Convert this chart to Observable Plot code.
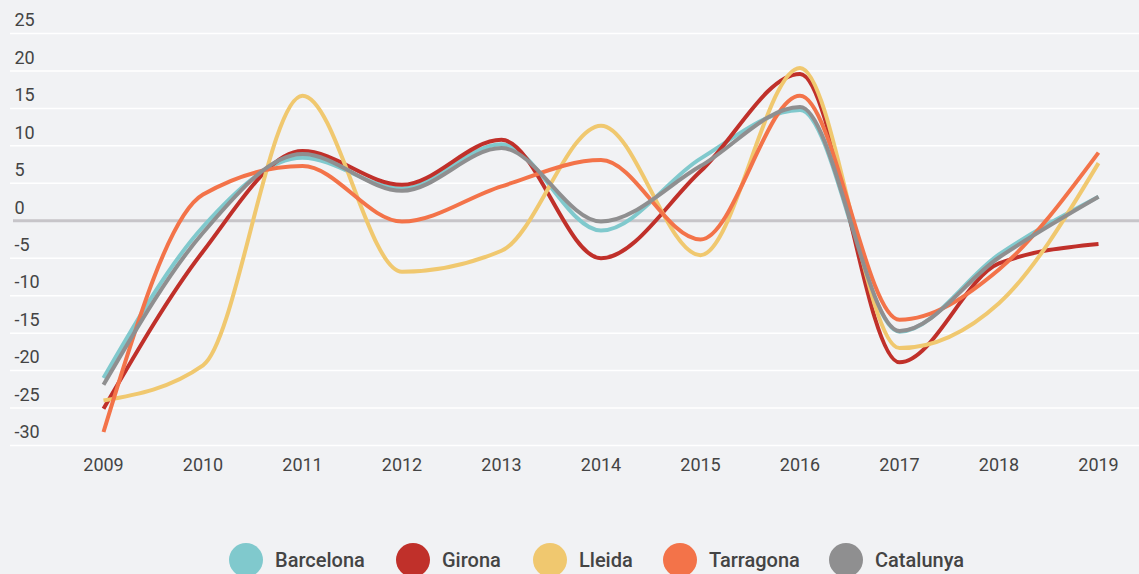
<!DOCTYPE html>
<html><head><meta charset="utf-8">
<script src="https://cdn.jsdelivr.net/npm/d3@7"></script>
<script src="https://cdn.jsdelivr.net/npm/@observablehq/plot@0.6"></script>
<style>
body{margin:0;background:#f1f2f4;font-family:Roboto,sans-serif;}
#chart{position:relative;width:1139px;height:574px;overflow:hidden;background:#f1f2f4}
#legend{position:relative;height:74px}
.item{position:absolute;top:43px;display:flex;align-items:center;height:34px}
.dot{width:34px;height:34px;border-radius:50%;margin-right:12px}
.lab{font-size:20px;font-weight:500;color:#444;line-height:34px}
</style>
</head><body>
<div id="chart"></div>
<script>
const years = [2009, 2010, 2011, 2012, 2013, 2014, 2015, 2016, 2017, 2018, 2019];
const seriesNames = ["Barcelona", "Girona", "Lleida", "Tarragona", "Catalunya"];
const seriesColors = ["#80c9cd", "#c0302a", "#f0c86f", "#f37349", "#8f8f90"];
const barcelona = [-21, -0.8, 8.4, 4.3, 10.2, -1.3, 8.3, 14.8, -14.8, -4.5, 3.2];
const girona = [-25.1, -4.1, 9.3, 4.8, 10.8, -5, 6.6, 19.6, -18.9, -5.7, -3.1];
const lleida = [-24, -19.3, 16.7, -6.8, -4, 12.7, -4.6, 20.4, -17, -11, 7.7];
const tarragona = [-28.2, 3.5, 7.3, -0.1, 4.6, 8.1, -2.5, 16.7, -13.2, -6.5, 9.1];
const catalunya = [-21.9, -1.6, 8.9, 4.0, 9.7, -0.1, 7.3, 15.2, -14.7, -4.9, 3.2];
const yTicks = [25, 20, 15, 10, 5, 0, -5, -10, -15, -20, -25, -30];

const seriesValues = [barcelona, girona, lleida, tarragona, catalunya];
const rows = [];
seriesNames.forEach((name, i) => {
  years.forEach((yr, j) => rows.push({series: name, year: yr, value: seriesValues[i][j]}));
});

const chart = Plot.plot({
  width: 1139,
  height: 500,
  marginLeft: 10,
  marginRight: 0,
  marginTop: 33,
  marginBottom: 55,
  style: {background: "transparent", fontFamily: "Roboto, sans-serif", fontSize: "18px", color: "#444"},
  x: {domain: [2009, 2019], insetLeft: 93, insetRight: 41},
  y: {domain: [-30, 25], axis: null},
  color: {domain: seriesNames, range: seriesColors},
  marks: [
    Plot.ruleY(yTicks.filter(d => d !== 0), {stroke: "#ffffff", strokeWidth: 1.5}),
    Plot.ruleY([0], {stroke: "#c7c5c9", strokeWidth: 3, insetLeft: 3}),
    Plot.text(yTicks, {y: d => d, text: d => String(d), frameAnchor: "left", textAnchor: "start", dx: 4, dy: -13, fill: "#444", fontSize: 18}),
    Plot.axisX(years, {tickSize: 0, tickPadding: 13, tickFormat: d => String(d), fontSize: 18, label: null, fill: "#444"}),
    Plot.lineY(rows, {x: "year", y: "value", z: "series", stroke: "series", curve: "monotone-x", strokeWidth: 4, strokeLinecap: "butt"})
  ]
});
const root = document.getElementById("chart");
root.appendChild(chart);

const legend = document.createElement("div");
legend.id = "legend";
const lefts = [229, 396, 533, 663, 829];
seriesNames.forEach((name, i) => {
  const it = document.createElement("div");
  it.className = "item";
  it.style.left = lefts[i] + "px";
  const dot = document.createElement("div");
  dot.className = "dot";
  dot.style.background = seriesColors[i];
  const lab = document.createElement("span");
  lab.className = "lab";
  lab.textContent = name;
  it.appendChild(dot);
  it.appendChild(lab);
  legend.appendChild(it);
});
root.appendChild(legend);
</script>
</body></html>
